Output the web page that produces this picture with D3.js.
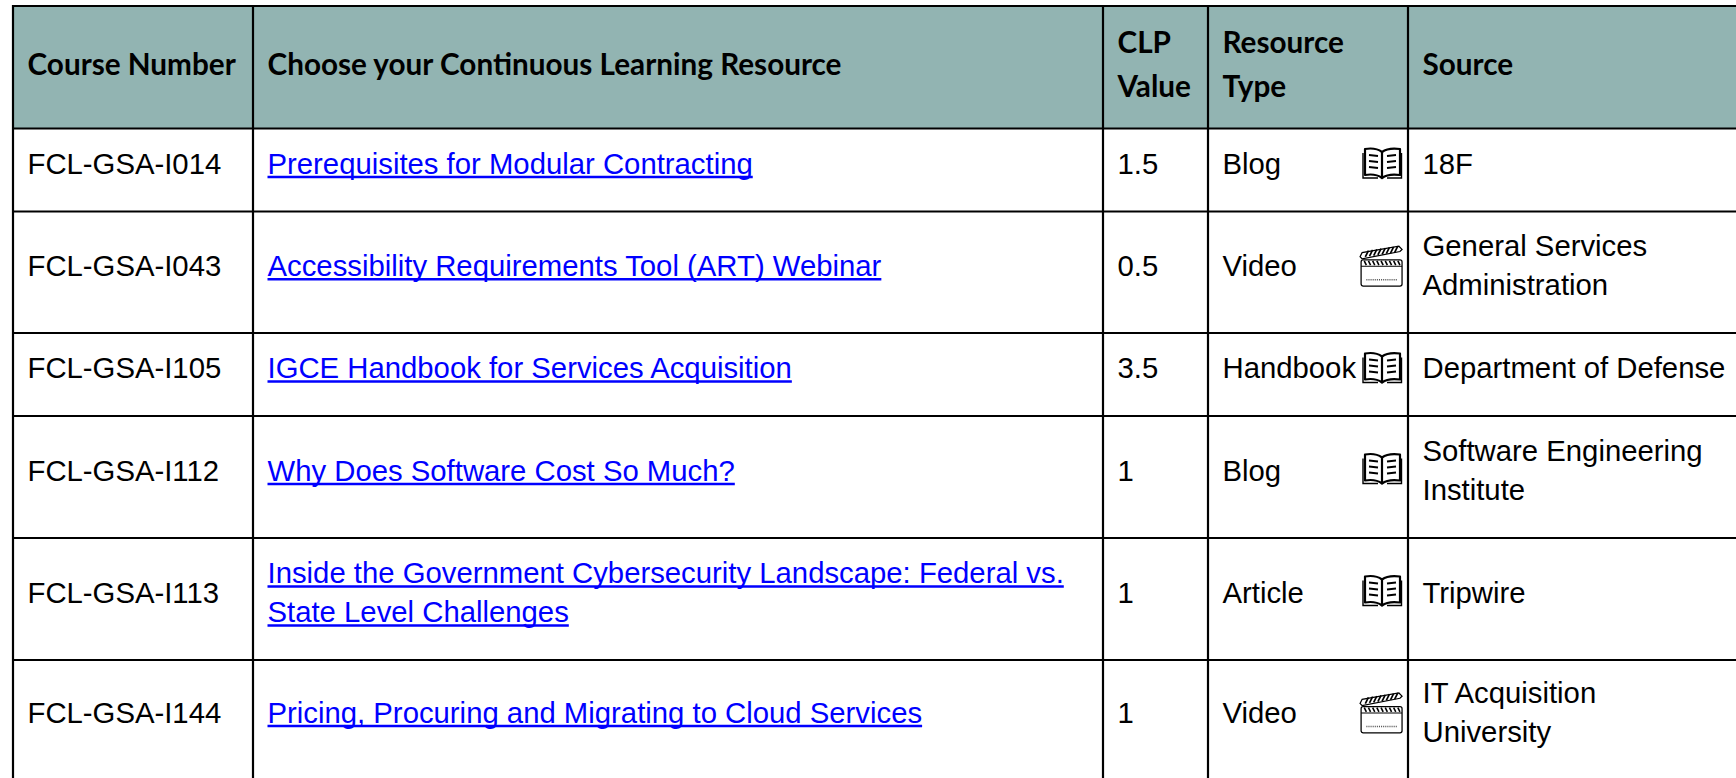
<!DOCTYPE html>
<html>
<head>
<meta charset="utf-8">
<title>Continuous Learning Resources</title>
<script src="https://cdn.jsdelivr.net/npm/d3@7"></script>
<style>
    html, body { margin: 0; padding: 0; background: #fff; overflow: hidden; }
    svg { display: block; }
    .head { font-family: Lato, sans-serif; font-weight: 700; font-size: 29.7px; fill: #000; }
    .cell { font-family: "Liberation Sans", Arial, sans-serif; font-size: 29.3px; fill: #000; }
    .link { fill: #0000ff; }
</style>
</head>
<body>
<div id="table"></div>
<script>
// table content
const columns = ['number', 'title', 'clp', 'type', 'source'];
const headers = [['Course Number'], ['Choose your Continuous Learning Resource'], ['CLP', 'Value'], ['Resource', 'Type'], ['Source']];
const courseNumbers = ['FCL-GSA-I014', 'FCL-GSA-I043', 'FCL-GSA-I105', 'FCL-GSA-I112', 'FCL-GSA-I113', 'FCL-GSA-I144'];
const titles = [
    ['Prerequisites for Modular Contracting'],
    ['Accessibility Requirements Tool (ART) Webinar'],
    ['IGCE Handbook for Services Acquisition'],
    ['Why Does Software Cost So Much?'],
    ['Inside the Government Cybersecurity Landscape: Federal vs.', 'State Level Challenges'],
    ['Pricing, Procuring and Migrating to Cloud Services']
];
const clpValues = ['1.5', '0.5', '3.5', '1', '1', '1'];
const resourceTypes = ['Blog', 'Video', 'Handbook', 'Blog', 'Article', 'Video'];
const sources = [
    ['18F'],
    ['General Services', 'Administration'],
    ['Department of Defense'],
    ['Software Engineering', 'Institute'],
    ['Tripwire'],
    ['IT Acquisition', 'University']
];
const videoTypes = ['Video'];

// layout
const width = 1736, height = 778;
const lineHeight = 39, headLineHeight = 44.3;
const padX = 14.5;
const rowKeys = ['head', 0, 1, 2, 3, 4, 5];
const colLeft = d3.scaleOrdinal().domain(columns).range([13, 253, 1103, 1208, 1408]);
const rowTop = d3.scaleOrdinal().domain(rowKeys).range([6, 128.5, 211.5, 333, 416, 538, 660]);
const rowBottom = d3.scaleOrdinal().domain(rowKeys).range([128.5, 211.5, 333, 416, 538, 660, 778]);

const svg = d3.select('#table').append('svg')
    .attr('width', width)
    .attr('height', height)
    .attr('viewBox', [0, 0, width, height]);

svg.append('rect')
    .attr('x', colLeft('number'))
    .attr('y', rowTop('head'))
    .attr('width', width - colLeft('number'))
    .attr('height', rowBottom('head') - rowTop('head'))
    .attr('fill', '#92b4b2');

// baseline of line i of n inside a row
function baseline(row, i, n, nudge, leading) {
    const mid = (rowTop(row) + rowBottom(row)) / 2;
    return mid + nudge + (i - (n - 1) / 2) * leading;
}

function addLines(g, lines, col, row, cls, nudge, leading) {
    lines.forEach((line, i) => {
        const x = colLeft(col) + padX;
        const y = baseline(row, i, lines.length, nudge, leading);
        const t = g.append('text')
            .attr('class', cls)
            .attr('x', x)
            .attr('y', y)
            .text(line);
        if (cls.includes('link')) {
            g.append('line')
                .attr('x1', x)
                .attr('x2', x + t.node().getComputedTextLength())
                .attr('y1', y + 3.5)
                .attr('y2', y + 3.5)
                .attr('stroke', '#0000ff')
                .attr('stroke-width', 2.4);
        }
    });
}

const body = svg.append('g');
columns.forEach((col, c) => addLines(body, headers[c], col, 'head', 'head', 7.5, headLineHeight));
courseNumbers.forEach((d, r) => {
    addLines(body, [d], 'number', r, 'cell', 3.5, lineHeight);
    addLines(body, titles[r], 'title', r, 'cell link', 3.5, lineHeight);
    addLines(body, [clpValues[r]], 'clp', r, 'cell', 3.5, lineHeight);
    addLines(body, [resourceTypes[r]], 'type', r, 'cell', 3.5, lineHeight);
    addLines(body, sources[r], 'source', r, 'cell', 3.5, lineHeight);
});

// icons
function drawBook(g) {
    g.append('path')
        .attr('d', 'M19 5 C15 2 8 1 2 2 L2 28 C8 27 15 28 19 31 C23 28 30 27 37 28 L37 2 C30 1 23 2 19 5 Z M19 5 L19 31')
        .attr('fill', '#fff').attr('stroke', '#000').attr('stroke-width', 2.2).attr('stroke-linejoin', 'round');
    g.append('path')
        .attr('d', 'M0 6 L0 31 L15 31 M38.5 6 L38.5 31 L24 31')
        .attr('fill', 'none').attr('stroke', '#000').attr('stroke-width', 1.4);
    const marks = [8, 14, 20];
    g.selectAll('.rule').data(marks).join('path')
        .attr('class', 'rule')
        .attr('d', d => `M6 ${d} L15 ${d + 1} M24 ${d + 1} L33 ${d}`)
        .attr('stroke', '#000').attr('stroke-width', 1.8);
}

function drawClapper(g) {
    // slanted arm
    g.append('path')
        .attr('d', 'M1 10 L3 6 L38 0 L41 3 L39 5 L3 12 Z')
        .attr('fill', '#fff').attr('stroke', '#000').attr('stroke-width', 1.2);
    g.selectAll('.arm').data(d3.range(6, 38, 4)).join('path')
        .attr('class', 'arm')
        .attr('d', d => `M${d} ${11 - d * 0.15} L${d + 3} ${5 - d * 0.15}`)
        .attr('stroke', '#000').attr('stroke-width', 1.6);
    // board
    g.append('rect')
        .attr('x', 2).attr('y', 13).attr('width', 39).attr('height', 25).attr('rx', 2)
        .attr('fill', '#fff').attr('stroke', '#000').attr('stroke-width', 1.2);
    g.selectAll('.band').data(d3.range(5, 40, 4)).join('path')
        .attr('class', 'band')
        .attr('d', d => `M${d} 14 L${d + 2} 18`)
        .attr('stroke', '#000').attr('stroke-width', 1.5);
    g.append('line')
        .attr('x1', 2).attr('x2', 41).attr('y1', 19).attr('y2', 19)
        .attr('stroke', '#000').attr('stroke-width', 1);
    g.append('line')
        .attr('x1', 7).attr('x2', 37).attr('y1', 32).attr('y2', 32)
        .attr('stroke', '#555').attr('stroke-width', 1.4).attr('stroke-dasharray', '1 1');
}

resourceTypes.forEach((d, r) => {
    const isVideo = videoTypes.includes(d);
    const mid = (rowTop(r) + rowBottom(r)) / 2;
    const tall = rowBottom(r) - rowTop(r) > 100;
    const g = svg.append('g')
        .attr('transform', isVideo
            ? `translate(${colLeft('source') - 49},${mid - 26}) scale(1.05)`
            : `translate(${colLeft('source') - 45},${mid - (tall ? 24.5 : 23)})`);
    if (isVideo) drawClapper(g);
    else drawBook(g);
});

// grid lines, open on the right and bottom
const grid = svg.append('g').attr('stroke', '#000').attr('stroke-width', 2.2);
grid.selectAll('.h').data(rowKeys.map(rowTop)).join('line')
    .attr('class', 'h')
    .attr('x1', colLeft('number') - 1).attr('x2', width)
    .attr('y1', d => d).attr('y2', d => d);
grid.selectAll('.v').data(columns.map(colLeft)).join('line')
    .attr('class', 'v')
    .attr('x1', d => d).attr('x2', d => d)
    .attr('y1', rowTop('head') - 1).attr('y2', height);
</script>
</body>
</html>
